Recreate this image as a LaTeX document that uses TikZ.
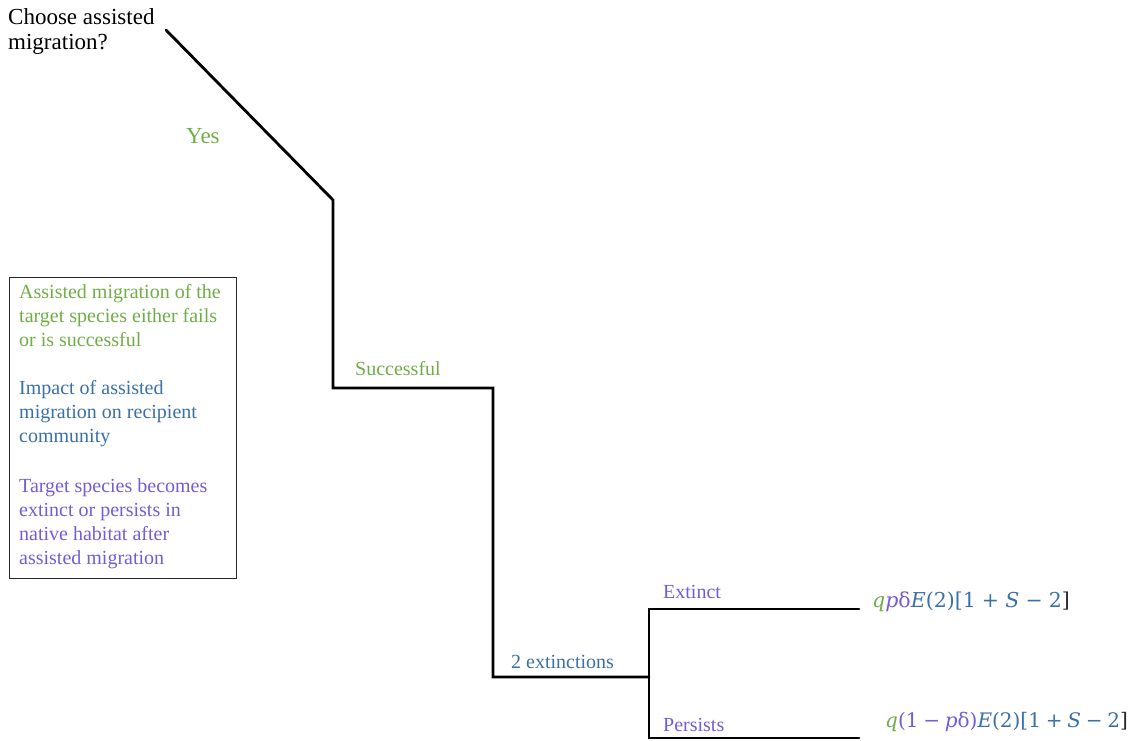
\documentclass[tikz,border=0pt]{standalone}
\usepackage{fontspec}
\setmainfont{Liberation Serif}
\newfontfamily\mathlike{DejaVu Serif}
\definecolor{cgreen}{RGB}{112,173,71}
\definecolor{cblue}{RGB}{58,112,168}
\definecolor{cpurple}{RGB}{116,92,214}
\definecolor{cdark}{RGB}{40,40,40}
\tikzset{
  branch/.style={line width=2.8pt, line cap=round, line join=miter},
  lbl/.style={inner sep=0pt, anchor=base west, font=\fontsize{20}{24}\selectfont},
  big/.style={font=\fontsize{23}{25}\selectfont},
  frm/.style={inner sep=0pt, anchor=base west, font=\mathlike\fontsize{20.5}{24}\selectfont},
  frmb/.style={inner sep=0pt, anchor=base west, font=\mathlike\fontsize{20}{24}\selectfont},
}
\newcommand{\gq}{\textcolor{cgreen}{\itshape q}}
\newcommand{\pv}[1]{\textcolor{cpurple}{#1}}
\newcommand{\bl}[1]{\textcolor{cblue}{#1}}
\newcommand{\opsp}{\hspace{0.3em}}
\newcommand{\opsq}{\hspace{0.24em}}
\begin{document}
\begin{tikzpicture}[x=1pt,y=-1pt]
\useasboundingbox (0,0) rectangle (1137,740);
% coordinates
\coordinate (p0) at (166,30);
\coordinate (p1) at (333,200);
\coordinate (p2) at (333,388);
\coordinate (p3) at (493,388);
\coordinate (p4) at (493,677);
\coordinate (p5) at (649,677);
\coordinate (p6) at (649,609);
\coordinate (p7) at (649,738);
\coordinate (e1) at (859,609);
\coordinate (e2) at (859,738);
\draw[branch] (p0) -- (p1) -- (p2) -- (p3) -- (p4) -- (p5);
\draw[branch] (e1) -- (p6) -- (p7) -- (e2);
% labels
\node[lbl, big, align=left, anchor=north west] (q) at (8,8) {Choose assisted\\migration?};
\node[lbl, big, text=cgreen] (yes) at (186,143) {Yes};
\node[lbl, text=cgreen] (succ) at (355,375) {Successful};
\node[lbl, text=cblue] (ext2) at (511,668) {2 extinctions};
\node[lbl, text=cpurple] (extinct) at (663,598) {Extinct};
\node[lbl, text=cpurple] (persist) at (663,731) {Persists};
% formulas
\node[frm] (f1) at (872,607) {\gq\pv{\itshape p}\pv{δ}\bl{\itshape E}\bl{(2)[1\opsp+\opsp}\bl{\itshape S}\bl{\opsp−\opsp2}\textcolor{cdark}{]}};
\node[frmb] (f2) at (885,727) {\gq\pv{(1\opsq−\opsq}\pv{\itshape p}\pv{δ)}\bl{\itshape E}\bl{(2)[1\opsq+\opsq}\bl{\itshape S}\bl{\opsq−\opsq2}\textcolor{cdark}{]}};
% legend box
\draw[line width=0.8pt, draw=cdark] (9,277) rectangle (236,578);
\node[lbl, anchor=north west, align=left, text=cgreen] (l1) at (19,284) {Assisted migration of the\\target species either fails\\or is successful};
\node[lbl, anchor=north west, align=left, text=cblue] (l2) at (19,380) {Impact of assisted\\migration on recipient\\community};
\node[lbl, anchor=north west, align=left, text=cpurple] (l3) at (19,478) {Target species becomes\\extinct or persists in\\native habitat after\\assisted migration};
\end{tikzpicture}
\end{document}
